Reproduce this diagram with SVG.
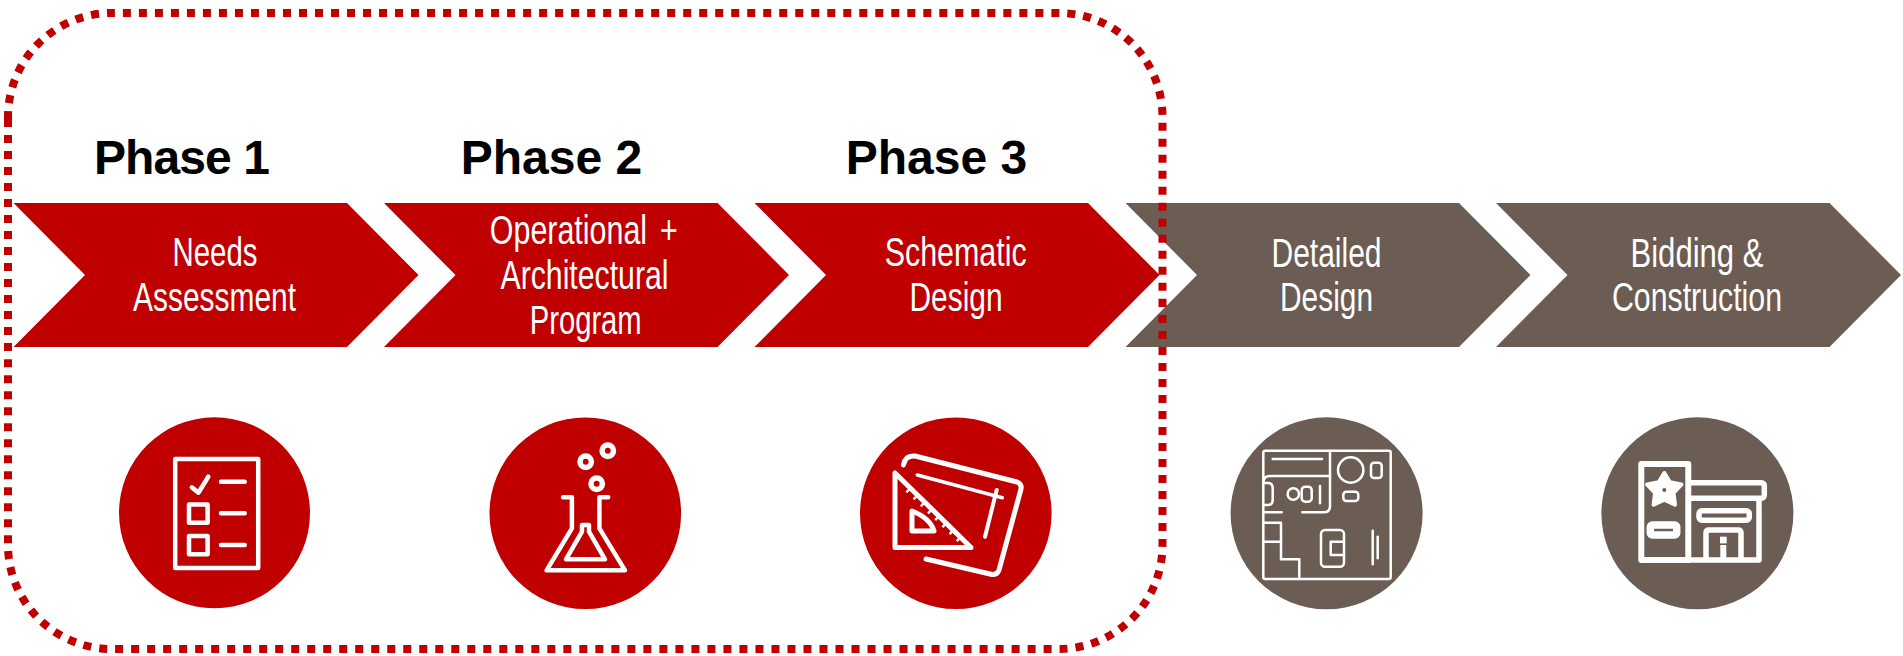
<svg xmlns="http://www.w3.org/2000/svg" width="1903" height="656" viewBox="0 0 1903 656">
<style>
.red{fill:#C00000}.brown{fill:#6B5D54}
.title{font:bold 48px "Liberation Sans",Arial,sans-serif;fill:#000;text-anchor:middle}
.lab{font:41px "Liberation Sans",Arial,sans-serif;fill:#fff;text-anchor:middle}
.ic{fill:none;stroke:#fff;stroke-width:4.5;stroke-linecap:round;stroke-linejoin:round}
.thin{fill:none;stroke:#fff;stroke-width:2.5;stroke-linecap:round;stroke-linejoin:round}
.bld{fill:none;stroke:#fff;stroke-width:5.5;stroke-linejoin:round}
</style>
<defs>
<path id="chev" d="M0,203H333.5L405,275L333.5,347H0L71.5,275Z"/>
</defs>
<rect width="1903" height="656" fill="#fff"/>
<g id="phase-titles">
<text class="title" x="182" y="174" textLength="176" lengthAdjust="spacing">Phase 1</text>
<text class="title" x="551.5" y="174">Phase 2</text>
<text class="title" x="936.5" y="174">Phase 3</text>
</g>
<g id="step1">
<use href="#chev" x="13.5" class="red"/>
<text class="lab" x="215" y="266" textLength="85" lengthAdjust="spacingAndGlyphs">Needs</text>
<text class="lab" x="214.5" y="311" textLength="163" lengthAdjust="spacingAndGlyphs">Assessment</text>
</g>
<g id="step2">
<use href="#chev" x="384" class="red"/>
<text class="lab" x="583.8" y="244" textLength="188" lengthAdjust="spacingAndGlyphs" word-spacing="6">Operational +</text>
<text class="lab" x="584.5" y="289" textLength="168" lengthAdjust="spacingAndGlyphs">Architectural</text>
<text class="lab" x="585.7" y="333.5" textLength="112" lengthAdjust="spacingAndGlyphs">Program</text>
</g>
<g id="step3">
<use href="#chev" x="754.5" class="red"/>
<text class="lab" x="955.7" y="266" textLength="142" lengthAdjust="spacingAndGlyphs">Schematic</text>
<text class="lab" x="956" y="311" textLength="93" lengthAdjust="spacingAndGlyphs">Design</text>
</g>
<g id="step4">
<use href="#chev" x="1125.5" class="brown"/>
<text class="lab" x="1326.5" y="266.5" textLength="110" lengthAdjust="spacingAndGlyphs">Detailed</text>
<text class="lab" x="1326.5" y="311" textLength="93" lengthAdjust="spacingAndGlyphs">Design</text>
</g>
<g id="step5">
<use href="#chev" x="1496" class="brown"/>
<text class="lab" x="1697" y="266.5" textLength="133" lengthAdjust="spacingAndGlyphs">Bidding &amp;</text>
<text class="lab" x="1697" y="311" textLength="170" lengthAdjust="spacingAndGlyphs">Construction</text>
</g>
<g id="icon-checklist">
<circle class="red" cx="214.5" cy="512.8" r="95.5"/>
<g class="ic">
<rect x="175.2" y="459" width="83" height="109"/>
<path d="M191.8,487.3L198.4,492.7L208.3,476.7"/>
<path d="M221,481.7H244.7M221,513.3H244.7M221,545H244.7"/>
<rect x="189" y="504.5" width="18.6" height="18.3"/>
<rect x="189" y="536" width="18.6" height="18.3"/>
</g>
</g>
<g id="icon-flask">
<circle class="red" cx="585.3" cy="513.3" r="95.8"/>
<g class="ic">
<path d="M563,497.3H571.9V528.3L546.6,570.3H625L599.4,528.3V497.3H608.2"/>
<path d="M566,559.3L582,531.7V525H589V531.7L605,559.3Z"/>
<circle cx="585.7" cy="461.7" r="5.7" stroke-width="5.5"/>
<circle cx="607.8" cy="450.7" r="5.7" stroke-width="5.5"/>
<circle cx="596.7" cy="483.7" r="5.7" stroke-width="5.5"/>
</g>
</g>
<g id="icon-drafting">
<circle class="red" cx="955.8" cy="513.3" r="95.8"/>
<g class="ic">
<path d="M903.5,465Q905,455 915,456L1017,482Q1022,484 1021,489L999,570Q997,576 990,574L926,559" stroke-width="5"/>
<path d="M917.3,475L1002.3,497.7" stroke-width="3.5"/>
<path d="M996.7,490L985,536.7" stroke-width="4"/>
<path d="M895,473V547.5H971Z" stroke-width="5"/>
<path d="M907,490L960,541" stroke-width="4.5" stroke-dasharray="2.5 7.5" stroke-linecap="butt"/>
<path d="M912,511V531H934Q930,518 912,511Z" stroke-width="5"/>
</g>
</g>
<g id="icon-floorplan">
<circle class="brown" cx="1326.6" cy="513.3" r="96"/>
<g class="thin">
<rect x="1263.3" y="450.7" width="127.4" height="128.3" rx="2"/>
<path d="M1330,451V506Q1330,512.3 1324,512.3H1302.3"/>
<path d="M1330,476H1270Q1263.5,476 1263.5,482"/>
<path d="M1272.7,459H1322"/>
<circle cx="1350.7" cy="470" r="12.7"/>
<rect x="1371" y="462.7" width="10.7" height="15.3" rx="3"/>
<rect x="1343.3" y="491.7" width="15" height="9.3" rx="3"/>
<path d="M1263.5,483H1268Q1272.7,483 1272.7,488V500Q1272.7,505 1268,505H1263.5"/>
<circle cx="1293.3" cy="494" r="5.7"/>
<rect x="1301.7" y="486.7" width="10" height="15" rx="3.5"/>
<path d="M1320,486V503.3"/>
<path d="M1263.5,512.3H1281.7"/>
<path d="M1263.5,522.7H1281V559.3H1299.3V578"/>
<path d="M1263.5,541.7H1281"/>
<rect x="1321" y="530" width="23" height="36.7" rx="4"/>
<path d="M1344,541.7H1330.7V555H1344"/>
<path d="M1372.7,530.7V564.3M1377.7,536.7V558.3"/>
</g>
</g>
<g id="icon-building">
<circle class="brown" cx="1697.4" cy="513.3" r="96"/>
<g class="bld">
<path d="M1641.3,464H1688.3V560H1641.3Z" stroke-width="6"/>
<path d="M1688,482.7H1761Q1764.3,483 1764.3,486V495Q1764.3,498 1761,498.3H1688"/>
<path d="M1688,560H1759V498"/>
<rect x="1699" y="510.7" width="50.3" height="9.6" rx="3"/>
<path d="M1706,560V533Q1706,530 1709,530H1738Q1741,530 1741,533V560"/>
<path d="M1723.3,545V558" stroke-width="6"/>
<rect x="1650.3" y="525" width="26.4" height="10" rx="2" stroke-width="7.5"/>
</g>
<rect x="1720" y="536.7" width="6.7" height="6.7" fill="#fff"/>
<path d="M1664.3,473L1669.9,482.2L1681.5,484.4L1673.5,492.9L1675,504.7L1664.3,499.7L1653.6,504.7L1655.1,492.9L1647.1,484.4L1658.7,482.2Z" fill="#fff" stroke="#fff" stroke-width="4" stroke-linejoin="round"/>
<circle cx="1664.3" cy="490" r="2" class="brown"/>
</g>
<g id="phase-boundary">
<path d="M8,119V117A104,104 0 0 1 112,13H1058.5A104,104 0 0 1 1162.5,117V545A104,104 0 0 1 1058.5,649H112A104,104 0 0 1 8,545V119Z" pathLength="3400" fill="none" stroke="#C00000" stroke-width="8" stroke-dasharray="8 8"/>
</g>
</svg>
